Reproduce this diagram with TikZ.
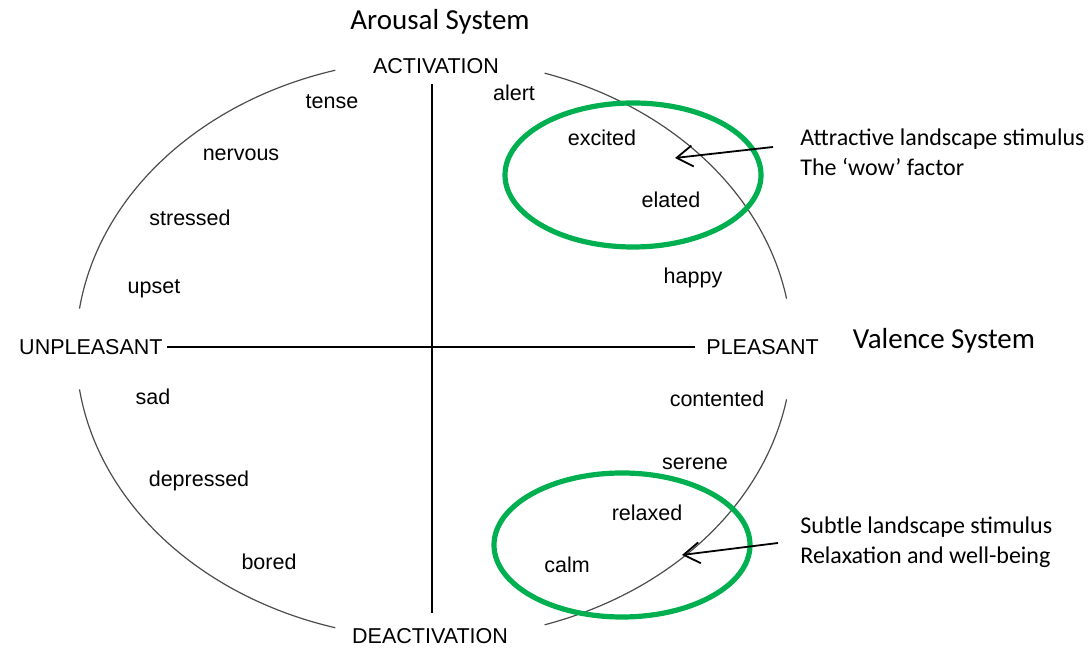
\documentclass[tikz,border=0pt]{standalone}
\usepackage{fontspec}
\setmainfont{Liberation Sans}
\newfontfamily\notefont{Carlito}
\usepackage{tikz}
\usetikzlibrary{arrows.meta, calc, positioning}
\definecolor{ringgreen}{RGB}{0,176,80}

\begin{document}
\begin{tikzpicture}[x=0.5pt, y=0.5pt, >={Straight Barb[length=8pt,width=10.5pt]}]
	\tikzset{
		mood/.style={inner sep=0pt, font=\fontsize{10.75}{13}\selectfont},
		system/.style={inner sep=0pt, font=\notefont\fontsize{14.5}{17}\selectfont},
		note/.style={inner sep=0pt, align=left, anchor=west,
			font=\notefont\fontsize{12}{15.2}\selectfont},
		rim/.style={draw=black!70, line width=0.6pt},
		axis/.style={draw, line width=1pt},
		ring/.style={draw=ringgreen, line width=2.6pt},
		pointer/.style={draw, ->, line width=0.9pt},
	}
	\useasboundingbox (0,0) rectangle (1090,651);

	%centre of the circumplex
	\coordinate (mid) at (434,302);
	\coordinate (origin) at (432,304);

	%outer rim, broken at the four poles
	\draw[rim] ($(mid)+(106:358 and 290)$) arc[start angle=106, end angle=172, x radius=358, y radius=290];
	\draw[rim] ($(mid)+(188:358 and 290)$) arc[start angle=188, end angle=254, x radius=358, y radius=290];
	\draw[rim] ($(mid)+(72:358 and 290)$) arc[start angle=72, end angle=10, x radius=358, y radius=290];
	\draw[rim] ($(mid)+(-10:358 and 290)$) arc[start angle=-10, end angle=-72, x radius=358, y radius=290];

	%poles
	\node (act) [mood] at (436,585) {ACTIVATION};
	\node (deact) [mood] at (430,15) {DEACTIVATION};
	\node (unpl) [mood, anchor=east] at (163,304) {UNPLEASANT};
	\node (pleas) [mood, anchor=west] at (706,304) {PLEASANT};

	%system titles
	\node (arousal) [system] at (440,629) {Arousal System};
	\node (valence) [system] at (944,310) {Valence System};

	%axes
	\path[axis] ([yshift=-5pt]origin |- act.south) -- ([yshift=7.5pt]origin |- deact.north);
	\path[axis] ([xshift=2pt]unpl.east) -- ([xshift=-5.5pt]pleas.west);

	%feelings, upper half
	\node (alert) [mood] at (514,558) {alert};
	\node (tense) [mood] at (332,549) {tense};
	\node (nervous) [mood] at (241,496) {nervous};
	\node (stressed) [mood] at (190,433) {stressed};
	\node (upset) [mood] at (154,362) {upset};
	\node (excited) [mood] at (602,513) {excited};
	\node (elated) [mood] at (671,451) {elated};
	\node (happy) [mood] at (693,373) {happy};

	%feelings, lower half
	\node (sad) [mood] at (153,254) {sad};
	\node (depressed) [mood] at (199,170) {depressed};
	\node (bored) [mood] at (269,89) {bored};
	\node (contented) [mood] at (717,252) {contented};
	\node (serene) [mood] at (695,187) {serene};
	\node (relaxed) [mood] at (647,138) {relaxed};
	\node (calm) [mood] at (567,86) {calm};

	%green rings
	\draw[ring] (633,476) ellipse [x radius=128, y radius=72];
	\draw[ring] (622,106) ellipse [x radius=128, y radius=72];

	%annotations
	\node (wow) [note] at (800,499) {Attractive landscape stimulus\\ The ‘wow’ factor};
	\node (subtle) [note] at (800,109) {Subtle landscape stimulus\\ Relaxation and well-being};
	\coordinate (wowtip) at (675,493);
	\coordinate (subtletip) at (682,96);
	\path[pointer] ([xshift=-13.5pt, yshift=2.5pt]wow.west) -- (wowtip);
	\path[pointer] ([xshift=-11pt, yshift=-0.5pt]subtle.west) -- (subtletip);

\end{tikzpicture}
\end{document}
